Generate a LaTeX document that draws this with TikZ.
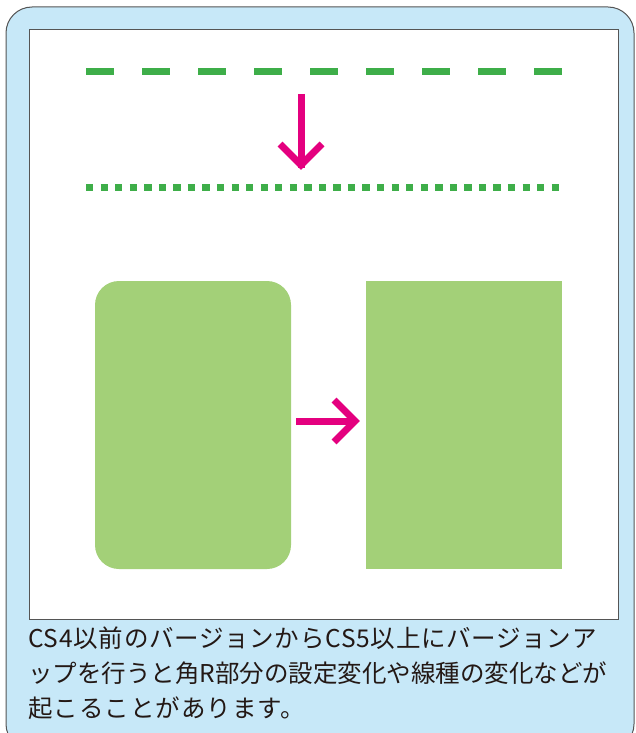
\documentclass[tikz,border=0pt]{standalone}
\usepackage{fontspec}
\newfontfamily\jp{Noto Sans CJK JP}
\newfontfamily\jpa[LetterSpace=3]{Noto Sans CJK JP}
\newfontfamily\jpc[LetterSpace=4]{Noto Sans CJK JP}
\definecolor{boxblue}{RGB}{199,232,248}
\definecolor{dashgreen}{RGB}{62,174,73}
\definecolor{rectgreen}{RGB}{163,208,120}
\definecolor{arrowpink}{RGB}{228,0,127}
\definecolor{bordergray}{RGB}{85,85,85}
\definecolor{textgray}{RGB}{35,24,21}
\tikzset{
  frame/.style={draw=bordergray, line width=1pt},
  greenline/.style={draw=dashgreen, line width=7pt},
  pinkarrow/.style={draw=arrowpink, line width=7pt, miter limit=10},
  caption/.style={anchor=base west, inner sep=0pt, text=textgray}
}
\begin{document}
\begin{tikzpicture}[x=1pt,y=-1pt]
\useasboundingbox (0,0) rectangle (635,733);
\begin{scope}
\clip (0,0) rectangle (635,733);
\draw[frame, fill=boxblue, rounded corners=26pt] (6,7) rectangle (634,750);
\end{scope}
\draw[frame, fill=white] (29,30) rectangle (618,619);
% dashed and dotted lines
\coordinate (dashA) at (86,72);
\coordinate (dashB) at (562,72);
\coordinate (dotA) at (86,187);
\coordinate (dotB) at (559,187);
\draw[greenline, dash pattern=on 27.7pt off 28.3pt] (dashA) -- (dashB);
\draw[greenline, dash pattern=on 7.3pt off 7.25pt] (dotA) -- (dotB);
% down arrow
\coordinate (dtop) at (301,94);
\coordinate (dtip) at (301,165);
\draw[pinkarrow] (dtop) -- ([yshift=-3pt]dtip);
\draw[pinkarrow] (280,144) -- (dtip) -- (322,144);
% rectangles
\fill[rectgreen, rounded corners=24pt] (95,281) rectangle (291,569);
\fill[rectgreen] (366,281) rectangle (562,569);
% right arrow
\coordinate (rstart) at (296,421);
\coordinate (rtip) at (355,421);
\draw[pinkarrow] (rstart) -- ([xshift=-3pt]rtip);
\draw[pinkarrow] (334,400) -- (rtip) -- (334,442);
% caption
\node[caption, font=\jpa\fontsize{24.5}{30}\selectfont] (l1) at (28,647) {CS4以前のバージョンからCS5以上にバージョンア};
\node[caption, font=\jp\fontsize{24.5}{30}\selectfont] (l2) at (28,682) {ップを行うと角R部分の設定変化や線種の変化などが};
\node[caption, font=\jpc\fontsize{24.5}{30}\selectfont] (l3) at (28,717) {起こることがあります。};
\end{tikzpicture}
\end{document}
